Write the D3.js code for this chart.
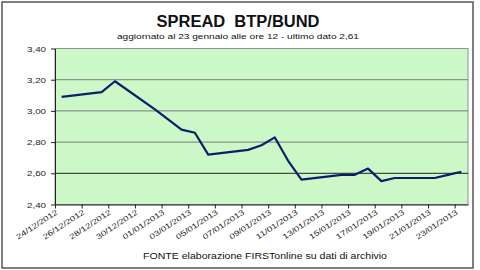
<!doctype html>
<html lang="it">
<head>
<meta charset="UTF-8">
<title>Spread BTP/Bund</title>
<script src="https://d3js.org/d3.v7.min.js"></script>
<style>
body { margin: 0; background: #fff; font-family: "Liberation Sans", Arial, sans-serif; }
svg { display: block; }
</style>
</head>
<body>
<div id="plot"></div>
<script>

var width = 480;
var height = 270;

// data
var dates = ["2012-12-24", "2012-12-27", "2012-12-28", "2012-12-31", "2013-01-02", "2013-01-03",
	"2013-01-04", "2013-01-07", "2013-01-08", "2013-01-09", "2013-01-10", "2013-01-11",
	"2013-01-14", "2013-01-15", "2013-01-16", "2013-01-17", "2013-01-18", "2013-01-21",
	"2013-01-22", "2013-01-23"];
var spread = [3.09, 3.12, 3.19, 3.01, 2.88, 2.86,
	2.72, 2.75, 2.78, 2.83, 2.68, 2.56,
	2.59, 2.59, 2.63, 2.55, 2.57, 2.57,
	2.59, 2.61];

var xTickLabels = ["24/12/2012", "26/12/2012", "28/12/2012", "30/12/2012", "01/01/2013", "03/01/2013",
	"05/01/2013", "07/01/2013", "09/01/2013", "11/01/2013", "13/01/2013", "15/01/2013",
	"17/01/2013", "19/01/2013", "21/01/2013", "23/01/2013"];
var yTicks = [2.40, 2.60, 2.80, 3.00, 3.20, 3.40];

var parseIso = d3.timeParse("%Y-%m-%d");
var parseIt = d3.timeParse("%d/%m/%Y");
var data = dates.map(function (d, i) { return { date: parseIso(d), value: spread[i] }; });

var plotLeft = 55, plotRight = 468, plotTop = 48.5, plotBottom = 204.5;

var svg = d3.select("#plot").append("svg")
	.attr("width", width)
	.attr("height", height);

// outer frame
svg.append("rect")
	.attr("x", 2).attr("y", 2)
	.attr("width", 471).attr("height", 266)
	.style("fill", "#fff")
	.style("stroke", "#555")
	.style("stroke-width", 1.5);

var xScale = d3.scaleTime()
	.domain([parseIso("2012-12-24"), parseIso("2013-01-24")])
	.range([plotLeft, plotRight]);

var yScale = d3.scaleLinear()
	.domain([2.40, 3.40])
	.range([plotBottom, plotTop]);

// plot area
svg.append("rect")
	.attr("x", plotLeft).attr("y", plotTop)
	.attr("width", plotRight - plotLeft).attr("height", plotBottom - plotTop)
	.style("fill", "#ccf8c8")
	.style("stroke", "#909090")
	.style("stroke-width", 1);

// gridlines
svg.append("g")
	.selectAll("line")
	.data(yTicks.slice(1, -1))
	.enter().append("line")
	.attr("x1", plotLeft).attr("x2", plotRight)
	.attr("y1", function (d) { return yScale(d); })
	.attr("y2", function (d) { return yScale(d); })
	.style("stroke", function (d) { return d === 2.60 ? "#222" : "#7a7a7a"; })
	.style("stroke-width", 1);

var fmt = function (d) { return d3.format(".2f")(d).replace(".", ","); };

var yAxis = d3.axisLeft(yScale)
	.tickValues(yTicks)
	.tickFormat(fmt)
	.tickSize(4)
	.tickSizeOuter(0)
	.tickPadding(5);

var gy = svg.append("g")
	.attr("transform", "translate(" + plotLeft + ",0)")
	.call(yAxis);
gy.select(".domain").style("stroke", "#222");
gy.selectAll(".tick line").style("stroke", "#222");
gy.selectAll("text")
	.style("font-family", "'Liberation Sans', Arial, sans-serif")
	.style("font-size", "8px")
	.style("fill", "#222")
	.attr("textLength", 19)
	.attr("lengthAdjust", "spacingAndGlyphs");

var xAxis = d3.axisBottom(xScale)
	.tickValues(xTickLabels.map(parseIt))
	.tickFormat(d3.timeFormat("%d/%m/%Y"))
	.tickSize(4)
	.tickSizeOuter(0);

var gx = svg.append("g")
	.attr("transform", "translate(0," + plotBottom + ")")
	.call(xAxis);
gx.select(".domain").style("stroke", "#222");
gx.selectAll(".tick line").style("stroke", "#222");
gx.selectAll("text")
	.style("font-family", "'Liberation Sans', Arial, sans-serif")
	.style("font-size", "7.5px")
	.style("fill", "#222")
	.attr("text-anchor", "end")
	.attr("dy", null)
	.attr("y", 0)
	.attr("transform", "translate(3,9) rotate(-33)")
	.attr("textLength", 48)
	.attr("lengthAdjust", "spacingAndGlyphs");

var line = d3.line()
	.x(function (d) { return xScale(d3.timeHour.offset(d.date, 12)); })
	.y(function (d) { return yScale(d.value); });

svg.append("path")
	.attr("d", line(data))
	.style("fill", "none")
	.style("stroke", "#0a1f6b")
	.style("stroke-width", 2.2)
	.style("stroke-linejoin", "round");

svg.append("text")
	.attr("x", 238).attr("y", 27)
	.attr("text-anchor", "middle")
	.style("font-family", "'Liberation Sans', Arial, sans-serif")
	.style("font-size", "16px")
	.style("font-weight", "bold")
	.style("fill", "#111")
	.attr("textLength", 163)
	.attr("lengthAdjust", "spacingAndGlyphs")
	.text("SPREAD\u00a0\u00a0BTP/BUND");

svg.append("text")
	.attr("x", 238).attr("y", 39)
	.attr("text-anchor", "middle")
	.style("font-family", "'Liberation Sans', Arial, sans-serif")
	.style("font-size", "8px")
	.style("fill", "#111")
	.attr("textLength", 242)
	.attr("lengthAdjust", "spacingAndGlyphs")
	.text("aggiornato al 23 gennaio alle ore 12 - ultimo dato 2,61");

svg.append("text")
	.attr("x", 265).attr("y", 259)
	.attr("text-anchor", "middle")
	.style("font-family", "'Liberation Sans', Arial, sans-serif")
	.style("font-size", "8.5px")
	.style("fill", "#111")
	.attr("textLength", 244)
	.attr("lengthAdjust", "spacingAndGlyphs")
	.text("FONTE elaborazione FIRSTonline su dati di archivio");

</script>
</body>
</html>
